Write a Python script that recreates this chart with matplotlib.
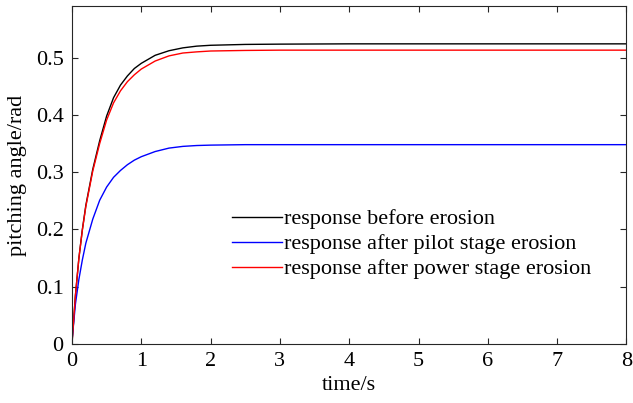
import matplotlib
matplotlib.use("Agg")
import matplotlib.pyplot as plt

# time samples (s)
time_s = [0, 0.05, 0.1, 0.15, 0.2, 0.3, 0.4, 0.5, 0.6, 0.7, 0.8, 0.9, 1.0,
          1.2, 1.4, 1.6, 1.8, 2.0, 2.5, 3.0, 4.0, 8.0]

# pitching angle (rad) for each case
before_erosion = [0, 0.085, 0.150, 0.200, 0.242, 0.305, 0.355, 0.398, 0.430,
                  0.452, 0.468, 0.481, 0.490, 0.504, 0.512, 0.517, 0.520,
                  0.5215, 0.523, 0.5235, 0.524, 0.524]
pilot_erosion = [0.005, 0.070, 0.113, 0.147, 0.176, 0.218, 0.251, 0.274, 0.291,
                 0.303, 0.313, 0.321, 0.327, 0.336, 0.342, 0.345, 0.3465,
                 0.3472, 0.348, 0.348, 0.348, 0.348]
power_erosion = [0, 0.085, 0.150, 0.199, 0.240, 0.302, 0.350, 0.391, 0.421,
                 0.442, 0.458, 0.470, 0.480, 0.494, 0.503, 0.508, 0.510,
                 0.5115, 0.5125, 0.513, 0.513, 0.513]

labels = ['response before erosion',
          'response after pilot stage erosion',
          'response after power stage erosion']
xticks = [0, 1, 2, 3, 4, 5, 6, 7, 8]
yticks = [0, 0.1, 0.2, 0.3, 0.4, 0.5]

plt.rcParams['font.family'] = ['Liberation Serif', 'DejaVu Serif']

fig = plt.figure(figsize=(6.33, 4.03), dpi=100)
ax = fig.add_axes([0.1137, 0.1464, 0.876, 0.8386])

ax.plot(time_s, before_erosion, color='black', lw=1.0, label=labels[0])
ax.plot(time_s, pilot_erosion, color='blue', lw=1.0, label=labels[1])
ax.plot(time_s, power_erosion, color='red', lw=1.0, label=labels[2])

ax.set_xlim(0, 8)
ax.set_ylim(0, 0.59)
ax.set_xticks(xticks)
ax.set_yticks(yticks)
ax.set_xticklabels([str(t) for t in xticks])
ax.set_yticklabels(['0' if v == 0 else '%g' % v for v in yticks])
ax.tick_params(direction='in', top=True, right=True, length=4, width=0.8,
               labelsize=16, colors='#262626', labelcolor='black', pad=6)
for sp in ax.spines.values():
    sp.set_color('#262626')
    sp.set_linewidth(0.8)

ax.set_xlabel('time/s', fontsize=16, labelpad=3)
ax.set_ylabel('pitching angle/rad', fontsize=16, labelpad=6)

ax.legend(loc='upper left', bbox_to_anchor=(0.289, 0.40), frameon=False,
          fontsize=16, handlelength=2.25, handletextpad=0.1, labelspacing=0.2,
          borderaxespad=0, borderpad=0)

fig.savefig('out.png', dpi=100)
